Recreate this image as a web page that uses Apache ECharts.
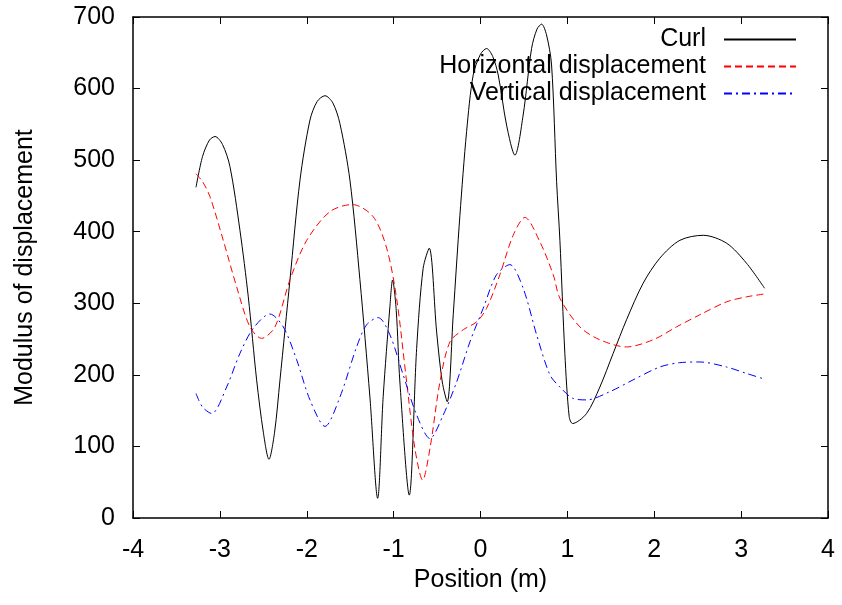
<!DOCTYPE html>
<html>
<head>
<meta charset="utf-8">
<script src="https://cdn.jsdelivr.net/npm/echarts@6/dist/echarts.min.js"></script>
<style>
html, body { margin: 0; padding: 0; background: #fff; }
#chart { width: 842px; height: 605px; }
</style>
</head>
<body>
<div id="chart"></div>
<script>
// values
const curlX = [-3.275, -3.2, -3.12, -3.056, -2.97, -2.884, -2.769, -2.673, -2.577, -2.5, -2.435, -2.37, -2.308, -2.193, -2.078, -1.963, -1.88, -1.79, -1.7, -1.618, -1.503, -1.388, -1.273, -1.184, -1.12, -1.043, -1.012, -0.97, -0.928, -0.82, -0.735, -0.66, -0.59, -0.505, -0.44, -0.383, -0.314, -0.237, -0.16, -0.084, 0.0, 0.07, 0.14, 0.204, 0.30, 0.396, 0.491, 0.588, 0.65, 0.703, 0.76, 0.818, 0.876, 0.914, 0.971, 1.021, 1.06, 1.221, 1.374, 1.527, 1.681, 1.872, 2.064, 2.295, 2.563, 2.832, 3.062, 3.27];
const curlY = [462, 505, 528, 533, 522, 491, 402, 309, 193, 120, 82, 120, 193, 333, 472, 556, 582, 590, 580, 551, 472, 333, 169, 27.5, 170, 295, 332.5, 290, 190, 32, 237, 349, 377, 260, 190, 162.5, 284, 423, 540, 619, 648, 656, 645, 619, 549, 507, 563, 656, 683, 690, 675, 633, 470, 388, 230, 141.5, 132, 146, 183, 230, 277, 328, 363, 388, 395, 384, 356, 321];

const horizX = [-3.275, -3.2, -3.114, -2.961, -2.807, -2.654, -2.519, -2.366, -2.193, -2.0, -1.733, -1.476, -1.235, -1.08, -0.966, -0.85, -0.755, -0.666, -0.582, -0.467, -0.352, -0.199, -0.045, 0.07, 0.223, 0.376, 0.511, 0.683, 0.837, 0.914, 1.144, 1.374, 1.681, 1.987, 2.256, 2.525, 2.832, 3.062, 3.27];
const horizY = [481, 470, 449, 388, 323, 267, 251, 267, 333, 388, 428, 438, 421, 377, 307, 190, 97, 53, 97, 190, 246, 263, 274, 293, 340, 395, 420, 386, 340, 307, 267, 249, 239, 249, 267, 284, 302, 309, 313];

const vertX = [-3.275, -3.2, -3.094, -2.922, -2.769, -2.616, -2.424, -2.27, -2.116, -1.963, -1.79, -1.618, -1.426, -1.311, -1.177, -1.043, -0.89, -0.735, -0.582, -0.429, -0.275, -0.122, 0.031, 0.185, 0.338, 0.491, 0.646, 0.799, 0.914, 1.067, 1.221, 1.489, 1.757, 2.064, 2.294, 2.525, 2.832, 3.062, 3.27];
const vertY = [174, 155, 146, 183, 230, 265, 285, 267, 221, 165, 128, 169, 239, 270, 280, 256, 200, 144, 111, 144, 190, 246, 293, 340, 354, 321, 256, 200, 183, 167, 165, 176.5, 193, 211, 217, 218, 211, 202, 194];

const names = ['Curl', 'Horizontal displacement', 'Vertical displacement'];
const xTicks = { min: -4, max: 4, interval: 1 };
const yTicks = { min: 0, max: 700, interval: 100 };

const font = 'Liberation Sans, Arial, Helvetica, sans-serif';
const fs = 25;

function pairs(xs, ys) {
    return xs.map((x, i) => [x, ys[i]]);
}

const axisLine = { show: true, onZero: false, lineStyle: { color: '#000', width: 1.5 } };
const axisTick = { show: true, inside: true, length: 7, lineStyle: { color: '#000', width: 1 } };

let chart = echarts.init(document.getElementById('chart'), null, { renderer: 'canvas' });
chart.setOption({
    backgroundColor: '#fff',
    animation: false,
    grid: { left: 133, right: 14, top: 17, bottom: 87, containLabel: false },
    legend: {
        orient: 'vertical',
        align: 'right',
        right: 40,
        top: 22,
        itemWidth: 72,
        itemHeight: 14,
        itemGap: 2,
        data: names,
        itemStyle: { opacity: 0 },
        textStyle: { fontFamily: font, fontSize: fs, color: '#000', padding: [0, 13, 0, 0] }
    },
    xAxis: [{
        type: 'value', position: 'bottom',
        min: xTicks.min, max: xTicks.max, interval: xTicks.interval,
        name: 'Position (m)', nameLocation: 'middle', nameGap: 40,
        nameTextStyle: { fontFamily: font, fontSize: fs, color: '#000' },
        axisLine: axisLine, axisTick: axisTick,
        axisLabel: { margin: 20, fontFamily: font, fontSize: fs, color: '#000' },
        splitLine: { show: false }
    }, {
        type: 'value', position: 'top',
        min: xTicks.min, max: xTicks.max, interval: xTicks.interval,
        axisLine: axisLine, axisTick: axisTick,
        axisLabel: { show: false }, splitLine: { show: false }
    }],
    yAxis: [{
        type: 'value', position: 'left',
        min: yTicks.min, max: yTicks.max, interval: yTicks.interval,
        name: 'Modulus of displacement', nameLocation: 'middle', nameGap: 95,
        nameTextStyle: { fontFamily: font, fontSize: fs, color: '#000' },
        axisLine: axisLine, axisTick: axisTick,
        axisLabel: { margin: 18, fontFamily: font, fontSize: fs, color: '#000' },
        splitLine: { show: false }
    }, {
        type: 'value', position: 'right',
        min: yTicks.min, max: yTicks.max, interval: yTicks.interval,
        axisLine: axisLine, axisTick: axisTick,
        axisLabel: { show: false }, splitLine: { show: false }
    }],
    series: [{
        name: names[0], type: 'line', data: pairs(curlX, curlY),
        symbol: 'none', smooth: 0.3,
        lineStyle: { color: '#000', width: 1 }, itemStyle: { color: '#000' }
    }, {
        name: names[1], type: 'line', data: pairs(horizX, horizY),
        symbol: 'none', smooth: 0.3,
        lineStyle: { color: '#ff0000', width: 1, type: [7, 4] }, itemStyle: { color: '#ff0000' }
    }, {
        name: names[2], type: 'line', data: pairs(vertX, vertY),
        symbol: 'none', smooth: 0.3,
        lineStyle: { color: '#0000ff', width: 1, type: [8, 4, 2, 4] }, itemStyle: { color: '#0000ff' }
    }]
});
window.addEventListener('resize', () => chart.resize());
</script>
</body>
</html>
